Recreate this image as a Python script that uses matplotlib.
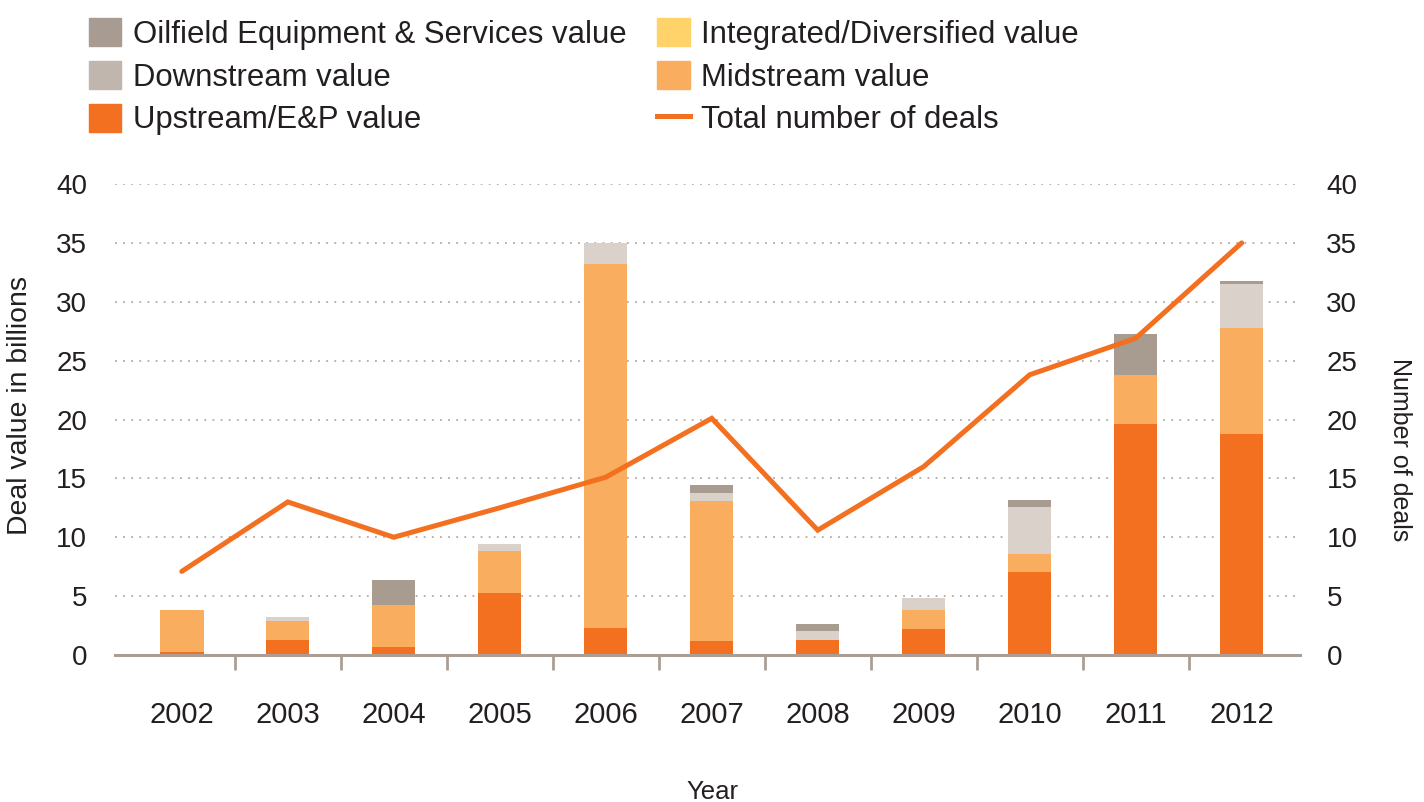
import matplotlib
matplotlib.use("Agg")
import matplotlib.pyplot as plt
from matplotlib.patches import Patch
from matplotlib.lines import Line2D
from matplotlib.ticker import FixedLocator
import numpy as np

plt.rcParams['font.family'] = ['Liberation Sans', 'DejaVu Sans']

years = ['2002', '2003', '2004', '2005', '2006', '2007', '2008', '2009', '2010', '2011', '2012']
upstream = [0.25, 1.27, 0.7, 5.27, 2.3, 1.2, 1.27, 2.2, 7.05, 19.6, 18.8]
midstream = [3.55, 1.63, 3.55, 3.53, 30.9, 11.9, 0.0, 1.6, 1.55, 4.2, 9.0]
integrated = [0, 0, 0, 0, 0, 0, 0, 0, 0, 0, 0]
downstream = [0.0, 0.3, 0.0, 0.6, 1.8, 0.7, 0.77, 1.0, 3.95, 0.0, 3.7]
oilfield = [0.0, 0.0, 2.15, 0.0, 0.0, 0.6, 0.56, 0.0, 0.65, 3.5, 0.3]
deals = [7.1, 13.0, 10.0, 12.5, 15.1, 20.1, 10.6, 16.0, 23.8, 26.9, 35.0]
y_ticks = [0, 5, 10, 15, 20, 25, 30, 35, 40]

c_up = '#F37021'
c_mid = '#F9AE5F'
c_int = '#FFD26A'
c_down = '#DAD1CA'
c_oil = '#A89B90'
c_axis = '#AA9F96'
c_text = '#231F20'

fig = plt.figure(figsize=(14.24, 8.02), dpi=100)
ax = fig.add_axes([115/1424, 147/802, 1185/1424, 471/802])

x = np.arange(len(years))
w = 0.41
bottom = np.zeros(len(years))
for vals, col in [(upstream, c_up), (midstream, c_mid), (integrated, c_int),
                  (downstream, c_down), (oilfield, c_oil)]:
    ax.bar(x, vals, w, bottom=bottom, color=col, zorder=3, linewidth=0)
    bottom += np.array(vals)

ax.set_xlim(-0.63, 10.55)
ax.set_ylim(0, 40)
ax.set_yticks(y_ticks)
ax.set_xticks(x)
ax.set_xticklabels(years)
ax.xaxis.set_minor_locator(FixedLocator(np.arange(0.5, 10, 1)))
ax.tick_params(axis='x', which='major', length=0, pad=33, labelsize=21, labelcolor=c_text)
ax.tick_params(axis='x', which='minor', length=11, width=2, color=c_axis, direction='out')
ax.tick_params(axis='y', length=0, pad=20, labelsize=20, labelcolor=c_text)
ax.grid(axis='y', color='#B3AAA3', linestyle=(0, (1, 3.5)), linewidth=1.3, zorder=0)
for s in ['top', 'left', 'right']:
    ax.spines[s].set_visible(False)
ax.spines['bottom'].set_color(c_axis)
ax.spines['bottom'].set_linewidth(2.2)
ax.spines['bottom'].set_zorder(4)

ax.set_ylabel('Deal value in billions', fontsize=20.4, color=c_text, va='center')
ax.yaxis.set_label_coords(-0.080, 0.53)
ax.set_xlabel('Year', fontsize=18.5, color=c_text, va='center')
ax.xaxis.set_label_coords(0.504, -0.291)

ax2 = ax.twinx()
ax2.plot(x, deals, color=c_up, linewidth=3.6, solid_capstyle='round', solid_joinstyle='miter', zorder=5)
ax2.set_ylim(0, 40)
ax2.set_yticks(y_ticks)
ax2.tick_params(axis='y', length=0, pad=19, labelsize=20, labelcolor=c_text)
for s in ['top', 'left', 'right', 'bottom']:
    ax2.spines[s].set_visible(False)
ax2.set_ylabel('Number of deals', fontsize=18, color=c_text, rotation=-90, va='center')
ax2.yaxis.set_label_coords(1.0844, 0.435)

handles = [
    Patch(color='#A89C92', label='Oilfield Equipment & Services value'),
    Patch(color='#C0B6AD', label='Downstream value'),
    Patch(color=c_up, label='Upstream/E&P value'),
    Patch(color=c_int, label='Integrated/Diversified value'),
    Patch(color=c_mid, label='Midstream value'),
    Line2D([0], [0], color=c_up, linewidth=3.6, label='Total number of deals'),
]
leg = fig.legend(handles=handles, ncol=2, loc='upper left',
                 bbox_to_anchor=(67/1424, 1 + 4/802), frameon=False,
                 fontsize=22.4, handlelength=1.05, handleheight=1.02,
                 handletextpad=0.36, columnspacing=1.0, labelspacing=0.36,
                 borderpad=0.2)
for t in leg.get_texts():
    t.set_color(c_text)

fig.savefig('out.png', dpi=100)
